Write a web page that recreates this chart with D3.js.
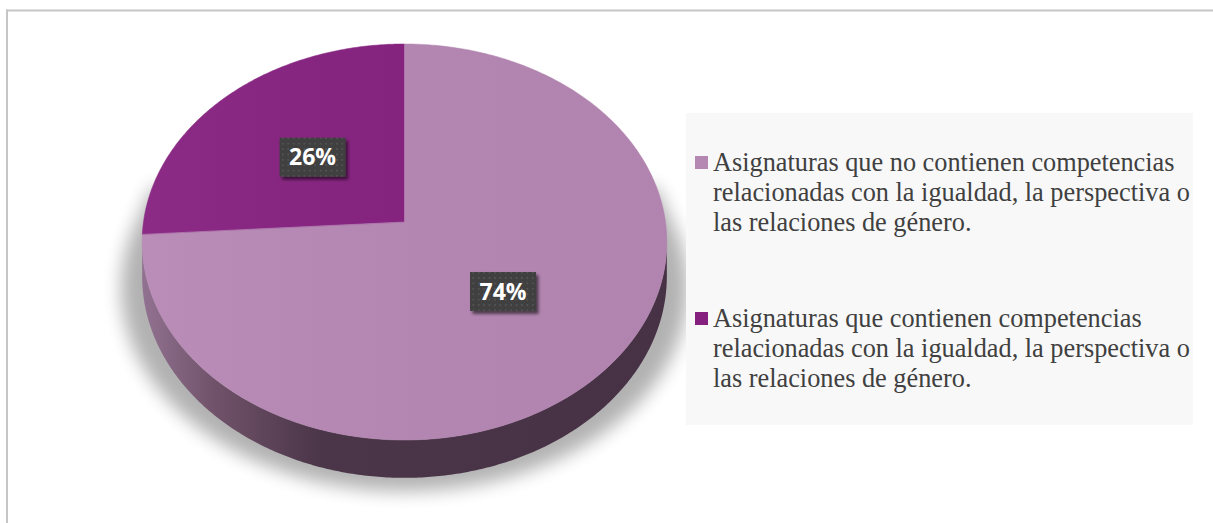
<!DOCTYPE html>
<html>
<head>
<meta charset="utf-8">
<script src="https://cdn.jsdelivr.net/npm/d3@7"></script>
<style>
  html, body { margin: 0; padding: 0; background: #ffffff; }
  svg { display: block; }
</style>
</head>
<body>
<svg id="chart" width="1213" height="523"></svg>
<script>
// ---- data ----
const categories = [
  "Asignaturas que no contienen competencias relacionadas con la igualdad, la perspectiva o las relaciones de género.",
  "Asignaturas que contienen competencias relacionadas con la igualdad, la perspectiva o las relaciones de género."
];
const legendLines = [
  ["Asignaturas que no contienen competencias", "relacionadas con la igualdad, la perspectiva o", "las relaciones de género."],
  ["Asignaturas que contienen competencias", "relacionadas con la igualdad, la perspectiva o", "las relaciones de género."]
];
const values = [74, 26];
const valueLabels = ["74%", "26%"];
const colors = ["#B587B3", "#85207F"];

// ---- layout ----
const svg = d3.select("#chart");
const CX = 404.5, CY = 222, RX = 261, RY = 196, K = -0.101, DEPTH = 34;

// perspective projection of a point on the pie disc (theta clockwise from top, r 0..1)
function proj(theta, r = 1, depth = 0, sx = 1) {
  const u = r * Math.sin(theta), v = -r * Math.cos(theta);
  const w = 1 + K * v;
  return [CX + sx * RX * u / w, CY + RY * v / w + depth / w];
}
function arcPoints(a0, a1, depth = 0, sx = 1) {
  const n = Math.max(2, Math.ceil(Math.abs(a1 - a0) / 0.01));
  return d3.range(n + 1).map(i => proj(a0 + (a1 - a0) * i / n, 1, depth, sx));
}
const line = d3.line().curve(d3.curveLinear);

const defs = svg.append("defs");
defs.append("filter").attr("id", "blurShadow").attr("x", "-20%").attr("y", "-20%").attr("width", "140%").attr("height", "150%")
  .append("feGaussianBlur").attr("stdDeviation", 9);
const ds = defs.append("filter").attr("id", "boxShadow").attr("x", "-30%").attr("y", "-30%").attr("width", "160%").attr("height", "170%");
ds.append("feDropShadow").attr("dx", 2.5).attr("dy", 3).attr("stdDeviation", 1.8)
  .attr("flood-color", "#000").attr("flood-opacity", 0.55);
const sideGrad = defs.append("linearGradient").attr("id", "sideGrad")
  .attr("gradientUnits", "userSpaceOnUse").attr("x1", CX - RX).attr("x2", CX + RX).attr("y1", 0).attr("y2", 0);
sideGrad.append("stop").attr("offset", 0).attr("stop-color", "#917190");
sideGrad.append("stop").attr("offset", 0.14).attr("stop-color", "#6f5269");
sideGrad.append("stop").attr("offset", 0.34).attr("stop-color", "#4b3548");
sideGrad.append("stop").attr("offset", 1).attr("stop-color", "#473145");
const topGrad = defs.append("linearGradient").attr("id", "topGrad")
  .attr("gradientUnits", "userSpaceOnUse").attr("x1", CX - RX).attr("x2", CX + RX).attr("y1", 0).attr("y2", 0);
topGrad.append("stop").attr("offset", 0).attr("stop-color", "#fff").attr("stop-opacity", 0.05);
topGrad.append("stop").attr("offset", 1).attr("stop-color", "#000").attr("stop-opacity", 0.02);
const pat = defs.append("pattern").attr("id", "dots").attr("patternUnits", "userSpaceOnUse")
  .attr("width", 5.4).attr("height", 5.4);
pat.append("rect").attr("width", 5.4).attr("height", 5.4).attr("fill", "#3f3f3f");
pat.append("circle").attr("cx", 2.7).attr("cy", 2.7).attr("r", 0.9).attr("fill", "#595959");

// ---- chart border ----
svg.append("line").attr("x1", 7).attr("x2", 7).attr("y1", 9.5).attr("y2", 523)
  .attr("stroke", "#c6c6c6").attr("stroke-width", 2);
svg.append("line").attr("x1", 6).attr("x2", 1213).attr("y1", 10.5).attr("y2", 10.5)
  .attr("stroke", "#c6c6c6").attr("stroke-width", 2);

// ---- shadow ----
const tL = Math.PI + Math.acos(0.101), tR = Math.PI - Math.acos(0.101); // silhouette angles
const shadowPts = [proj(Math.PI * 0.44, 1, 0, 1.0)]
  .concat(arcPoints(Math.PI * 0.44, Math.PI * 1.56, DEPTH + 12, 1.08))
  .concat([proj(Math.PI * 1.56, 1, 0, 1.0), [CX, CY + 20]]);
svg.append("path").attr("d", line(shadowPts) + "Z")
  .attr("fill", "#000").attr("opacity", 0.3).attr("filter", "url(#blurShadow)");

// ---- side ----
const sidePts = arcPoints(tR, tL, 0).concat(arcPoints(tL, tR, DEPTH));
svg.append("path").attr("d", line(sidePts) + "Z").attr("fill", "url(#sideGrad)");

// ---- top slices ----
const pie = d3.pie().sort(null).value(d => d)(values);
const slices = svg.append("g");
pie.forEach((p, i) => {
  const pts = [[CX, CY]].concat(arcPoints(p.startAngle, p.endAngle, 0));
  slices.append("path").attr("d", line(pts) + "Z")
    .attr("fill", colors[i]).attr("stroke", colors[i]).attr("stroke-width", 0.5);
});
// subtle top light
svg.append("path").attr("d", line(arcPoints(0, 2 * Math.PI, 0)) + "Z").attr("fill", "url(#topGrad)");
// slice separator highlight
pie.forEach(p => {
  svg.append("path").attr("d", line([[CX, CY], proj(p.startAngle)]))
    .attr("stroke", "#c9a6c8").attr("stroke-width", 0.8).attr("fill", "none").attr("opacity", 0.6);
});

// ---- data labels ----
const labW = 66, labH = 39;
pie.forEach((p, i) => {
  const mid = (p.startAngle + p.endAngle) / 2;
  const [lx, ly] = proj(mid, 0.5);
  const g = svg.append("g").attr("transform", `translate(${lx},${ly})`);
  g.append("rect").attr("x", -labW / 2).attr("y", -labH / 2).attr("width", labW).attr("height", labH)
    .attr("fill", "url(#dots)").attr("filter", "url(#boxShadow)");
  g.append("text").attr("text-anchor", "middle").attr("y", 0).attr("dy", "0.36em")
    .attr("font-family", "'Open Sans', sans-serif").attr("font-weight", 700).attr("font-size", 23)
    .attr("fill", "#ffffff").text(valueLabels[i]);
});

// ---- legend ----
svg.append("rect").attr("x", 686).attr("y", 113).attr("width", 507).attr("height", 312).attr("fill", "#f8f8f8");
const legendTop = [171, 327];
const leg = svg.append("g");
categories.forEach((c, i) => {
  leg.append("rect").attr("x", 695).attr("y", legendTop[i] - 15).attr("width", 13).attr("height", 13)
    .attr("fill", colors[i]);
  const t = leg.append("text").attr("font-family", "'Liberation Serif', 'Times New Roman', serif")
    .attr("font-size", 26.3).attr("fill", "#404040");
  legendLines[i].forEach((ln, j) => {
    t.append("tspan").attr("x", 713).attr("y", legendTop[i] + j * 29.8).text(ln);
  });
});
</script>
</body>
</html>
